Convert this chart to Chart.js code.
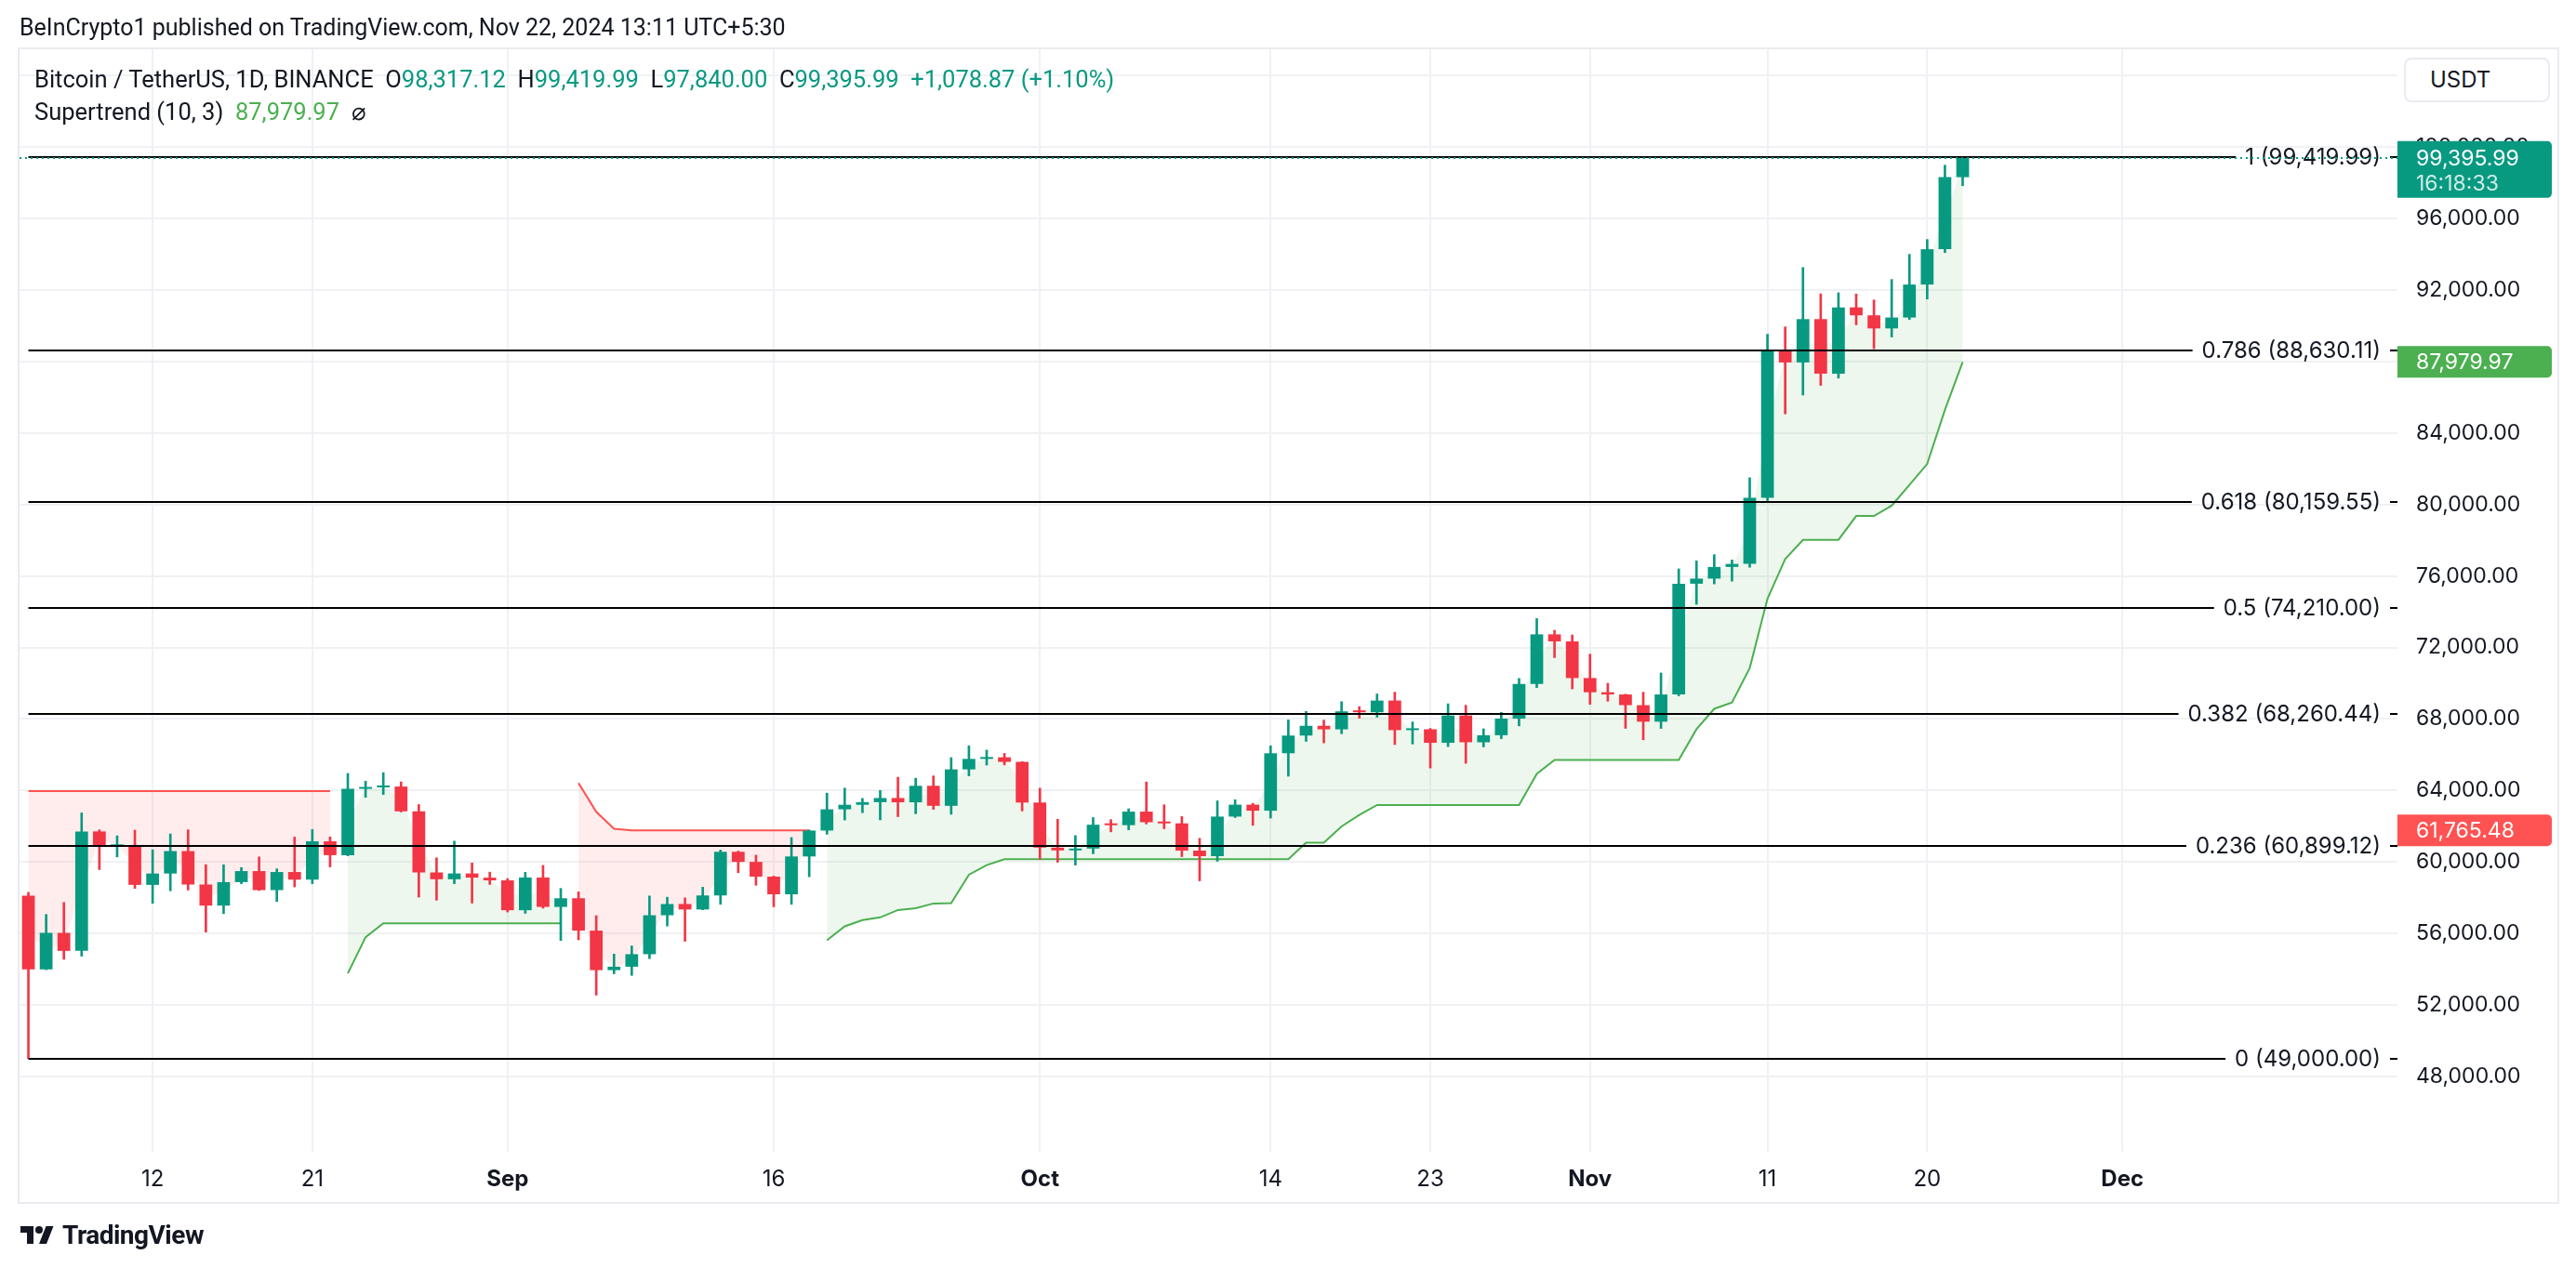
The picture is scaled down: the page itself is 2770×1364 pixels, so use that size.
<!DOCTYPE html>
<html>
<head>
<meta charset="utf-8">
<script src="https://cdn.jsdelivr.net/npm/chart.js@4.4.1/dist/chart.umd.min.js"></script>
<style>
  html, body { margin: 0; padding: 0; background: #fff; }
  body { width: 2770px; height: 1364px; position: relative; overflow: hidden; font-family: Roboto, "Liberation Sans", sans-serif; color: #131722; }
  #frame { position: absolute; left: 19px; top: 51px; width: 2733px; height: 1244px; border: 2px solid #e9ebf0; box-sizing: border-box; }
  #chart { position: absolute; left: 0; top: 0; }
  .title { position: absolute; left: 21px; top: 14px; font-size: 25px; line-height: 32px; white-space: pre; }
  .legend { position: absolute; left: 37px; font-size: 25.5px; line-height: 32px; white-space: pre; }
  .legend .v { color: #089981; }
  .legend .st { color: #4caf50; }
  .usdt { position: absolute; left: 2585px; top: 62px; width: 157px; height: 48px; box-sizing: border-box; border: 2px solid #e9ebf0; border-radius: 8px; background: #fff; font-family: Inter, Roboto, sans-serif; font-size: 24px; line-height: 44px; padding-left: 26px; }
  .logo { position: absolute; left: 21px; top: 1312px; height: 32px; display: flex; align-items: center; font-size: 28px; font-weight: 700; letter-spacing: -0.5px; }
  .logo svg { margin-right: 8px; }
</style>
</head>
<body>
<div id="frame"></div>
<canvas id="chart" width="2770" height="1364"></canvas>
<div class="title">BeInCrypto1 published on TradingView.com, Nov 22, 2024 13:11 UTC+5:30</div>
<div class="legend" style="top:69px">Bitcoin / TetherUS, 1D, BINANCE  O<span class="v">98,317.12</span>  H<span class="v">99,419.99</span>  L<span class="v">97,840.00</span>  C<span class="v">99,395.99</span>  <span class="v">+1,078.87 (+1.10%)</span></div>
<div class="legend" style="top:104px">Supertrend (10, 3)  <span class="st">87,979.97</span>  ⌀</div>
<div class="usdt">USDT</div>
<div class="logo"><svg width="38" height="24" viewBox="0 0 36 24"><path d="M14 22H7V10H0V3h14v19zM28 22h-8l7.5-19h8L28 22z" fill="#131722"/><circle cx="20" cy="7" r="4" fill="#131722"/></svg>TradingView</div>
<script>
// daily candles, Aug 5 .. Nov 22 2024
const startDate = '2024-08-05';
const dayCount = 134; // visible slots incl. empty space on the right

const opens = [
  58116, 53991, 56034, 55027, 61710, 60881, 60945,
  58719, 59355, 60610, 58739, 57560, 58874, 59491,
  58427, 59439, 59014, 61157, 60381, 64094, 64178,
  64220, 62834, 59415, 59034, 59359, 59123, 58974,
  57301, 59132, 57487, 57971, 56160, 53949, 54140,
  54841, 57020, 57650, 57343, 58128, 60571, 60005,
  59182, 58192, 60309, 61759, 62947, 63201, 63349,
  63579, 63339, 64263, 63144, 65181, 65769, 65858,
  65602, 63327, 60804, 60649, 60752, 62086, 62059,
  62819, 62224, 62161, 60636, 60326, 62540, 63206,
  62870, 66084, 67075, 67620, 67421, 68428, 68379,
  69032, 67377, 67426, 66668, 68198, 66698, 67093,
  68022, 69962, 72736, 72344, 70292, 69497, 69374,
  68775, 67850, 69372, 75571, 75857, 76509, 76678,
  80371, 88648, 87952, 90375, 87325, 91032, 90587,
  89855, 90465, 92310, 94286, 98317.12
];
const highs = [
  58305, 57064, 57736, 62745, 61799, 61464, 61780,
  60680, 61572, 61800, 59849, 59847, 59689, 60284,
  59618, 61396, 61820, 61400, 64955, 64522, 65000,
  64481, 63213, 60234, 61166, 59944, 59432, 59076,
  59425, 59809, 58519, 58327, 56996, 54850, 55300,
  58100, 58029, 57991, 58588, 60670, 60610, 60381,
  59210, 61369, 61786, 63850, 64133, 63559, 64000,
  64745, 64688, 64817, 65839, 66498, 66260, 66076,
  65618, 64130, 62390, 61477, 62484, 62370, 62975,
  64478, 63200, 62543, 61321, 63418, 63480, 63285,
  66500, 67950, 68424, 67939, 68969, 68694, 69400,
  69500, 67836, 67472, 68850, 68771, 67454, 68372,
  70270, 73620, 72961, 72700, 71632, 70000, 69391,
  69500, 70577, 76400, 76849, 77199, 76900, 81500,
  89530, 89940, 93265, 91790, 91850, 91779, 91449,
  92594, 94002, 94831, 98988, 99419.99
];
const lows = [
  49000, 53973, 54558, 54730, 59574, 60287, 58522,
  57688, 58390, 58433, 56078, 57110, 58785, 58408,
  57787, 58610, 58784, 59724, 60345, 63620, 63773,
  62800, 58034, 57860, 58787, 57701, 58745, 57201,
  57128, 57415, 55606, 55643, 52550, 53745, 53653,
  54591, 56419, 55567, 57324, 57632, 59400, 58696,
  57493, 57628, 59174, 61555, 62350, 62758, 62357,
  62538, 62700, 62947, 62670, 64819, 65422, 65432,
  62856, 60164, 59986, 59828, 60460, 61689, 61798,
  62128, 61860, 60300, 58946, 60042, 62487, 62050,
  62457, 64800, 66750, 66666, 67177, 68046, 68100,
  66571, 66600, 65260, 66457, 65521, 66439, 66901,
  67618, 69760, 71436, 69685, 68820, 68995, 67478,
  66835, 67476, 69298, 74416, 75560, 75714, 76492,
  80216, 85072, 86127, 86668, 87073, 90056, 88722,
  89376, 90357, 91500, 94100, 97840
];
const closes = [
  53991, 56034, 55027, 61710, 60880, 60945, 58719,
  59354, 60610, 58739, 57560, 58874, 59491, 58427,
  59438, 59013, 61157, 60382, 64094, 64178, 64220,
  62834, 59415, 59034, 59359, 59123, 58973, 57301,
  59132, 57487, 57970, 56160, 53949, 54140, 54841,
  57020, 57648, 57343, 58127, 60571, 60005, 59182,
  58192, 60309, 61759, 62947, 63201, 63348, 63579,
  63339, 64262, 63143, 65182, 65769, 65858, 65602,
  63327, 60805, 60649, 60752, 62086, 62058, 62819,
  62224, 62160, 60636, 60326, 62540, 63206, 62870,
  66083, 67074, 67620, 67421, 68428, 68379, 69031,
  67377, 67426, 66668, 68198, 66698, 67092, 68022,
  69962, 72736, 72344, 70292, 69497, 69374, 68775,
  67850, 69372, 75571, 75857, 76509, 76677, 80371,
  88647, 87952, 90375, 87325, 91032, 90587, 89855,
  90464, 92310, 94286, 98317, 99395.99
];

// Supertrend (10, 3): up-trend and down-trend plots, null where not active
const stUp = [
  null, null, null, null, null, null, null,
  null, null, null, null, null, null, null,
  null, null, null, null, 53766, 55792, 56571,
  56571, 56571, 56571, 56571, 56571, 56571, 56571,
  56571, 56571, 56571, null, null, null, null,
  null, null, null, null, null, null, null,
  null, null, null, 55620, 56400, 56745, 56900,
  57314, 57418, 57678, 57696, 59290, 59828, 60156,
  60156, 60156, 60156, 60156, 60156, 60156, 60156,
  60156, 60156, 60156, 60156, 60156, 60156, 60156,
  60156, 60156, 61075, 61075, 61991, 62633, 63187,
  63187, 63187, 63187, 63187, 63187, 63187, 63187,
  63187, 64929, 65706, 65706, 65706, 65706, 65706,
  65706, 65706, 65706, 67429, 68571, 68918, 70852,
  74732, 76951, 78026, 78026, 78026, 79361, 79361,
  79943, 81100, 82270, 85300, 87979.97
];
const stDown = [
  63964, 63964, 63964, 63964, 63964, 63964, 63964,
  63964, 63964, 63964, 63964, 63964, 63964, 63964,
  63964, 63964, 63964, 63964, null, null, null,
  null, null, null, null, null, null, null,
  null, null, null, 64416, 62805, 61855, 61765.48,
  61765.48, 61765.48, 61765.48, 61765.48, 61765.48, 61765.48, 61765.48,
  61765.48, 61765.48, 61765.48, null, null, null, null,
  null, null, null, null, null, null, null,
  null, null, null, null, null, null, null,
  null, null, null, null, null, null, null,
  null, null, null, null, null, null, null,
  null, null, null, null, null, null, null,
  null, null, null, null, null, null, null,
  null, null, null, null, null, null, null,
  null, null, null, null, null, null, null,
  null, null, null, null, null
];

// Fibonacci retracement drawn from the Aug 5 low to the Nov 22 high
const fibLevels = ['0', '0.236', '0.382', '0.5', '0.618', '0.786', '1'];
const fibPrices = [49000, 60899.12, 68260.44, 74210, 80159.55, 88630.11, 99419.99];

const yTicks = [48000, 52000, 56000, 60000, 64000, 68000, 72000, 76000, 80000, 84000, 88000, 92000, 96000, 100000, 104000];
const tickDates = ['2024-08-12', '2024-08-21', '2024-09-01', '2024-09-16', '2024-10-01', '2024-10-14', '2024-10-23', '2024-11-01', '2024-11-11', '2024-11-20', '2024-12-01'];
const tickTexts = ['12', '21', 'Sep', '16', 'Oct', '14', '23', 'Nov', '11', '20', 'Dec'];
const monthTexts = ['Sep', 'Oct', 'Nov', 'Dec'];

const upColor = '#089981';
const downColor = '#f23645';
const axisFont = 'Inter, Roboto, sans-serif';

const dates = [];
for (let i = 0; i < dayCount; i++) {
    const d = new Date(startDate + 'T00:00:00Z');
    d.setUTCDate(d.getUTCDate() + i);
    dates.push(d.toISOString().slice(0, 10));
}

const candleColors = closes.map((c, i) => c >= opens[i] ? upColor : downColor);
const bodies = closes.map((c, i) => [opens[i], c]);
const wicks = highs.map((h, i) => [lows[i], h]);
const bodyMid = closes.map((c, i) => (opens[i] + c) / 2);

function fmt(v) {
    return v.toLocaleString('en-US', { minimumFractionDigits: 2, maximumFractionDigits: 2 });
}

function tag(ctx, x0, x1, top, height, bg) {
    ctx.fillStyle = bg;
    ctx.beginPath();
    ctx.roundRect(x0, top, x1 - x0, height, [0, 5, 5, 0]);
    ctx.fill();
}

const overlay = {
    id: 'overlay',
    afterDatasetsDraw: function(chart) {
        const ctx = chart.ctx;
        const area = chart.chartArea;
        const xs = chart.scales.x;
        const ys = chart.scales.y;
        ctx.save();
        ctx.beginPath();
        ctx.rect(area.left, area.top, area.right - area.left, area.bottom - area.top);
        ctx.clip();

        // fib levels with their labels
        const fibStart = xs.getPixelForValue(0);
        const tx = area.right - 18;
        ctx.font = '24px ' + axisFont;
        ctx.textBaseline = 'middle';
        ctx.textAlign = 'right';
        fibLevels.forEach(function(level, i) {
            const py = Math.round(ys.getPixelForValue(fibPrices[i]));
            const text = level + ' (' + fmt(fibPrices[i]) + ')';
            const w = ctx.measureText(text).width;
            ctx.strokeStyle = '#000';
            ctx.lineWidth = 2;
            ctx.beginPath();
            ctx.moveTo(fibStart, py);
            ctx.lineTo(tx - w - 10, py);
            ctx.moveTo(tx + 10, py);
            ctx.lineTo(area.right, py);
            ctx.stroke();
            ctx.fillStyle = '#131722';
            ctx.fillText(text, tx, py + 1);
        });

        // last price line
        const lastY = Math.round(ys.getPixelForValue(closes[closes.length - 1]));
        ctx.setLineDash([2, 4]);
        ctx.strokeStyle = upColor;
        ctx.lineWidth = 2;
        ctx.beginPath();
        ctx.moveTo(area.left, lastY);
        ctx.lineTo(area.right, lastY);
        ctx.stroke();
        ctx.restore();
    },
    afterDraw: function(chart) {
        const ctx = chart.ctx;
        const area = chart.chartArea;
        const ys = chart.scales.y;
        const x0 = area.right;
        const x1 = x0 + 166;
        const tx = x0 + 20;
        ctx.save();
        ctx.font = '23px ' + axisFont;
        ctx.textBaseline = 'middle';
        ctx.textAlign = 'left';

        const last = closes[closes.length - 1];
        const ly = ys.getPixelForValue(last);
        tag(ctx, x0, x1, ly - 18, 61, upColor);
        ctx.fillStyle = '#fff';
        ctx.fillText(fmt(last), tx, ly + 1);
        ctx.fillStyle = 'rgba(255,255,255,0.8)';
        ctx.fillText('16:18:33', tx, ly + 28);

        const stLast = stUp[stUp.length - 1];
        const sy = ys.getPixelForValue(stLast);
        tag(ctx, x0, x1, sy - 17, 34, '#4caf50');
        ctx.fillStyle = '#fff';
        ctx.fillText(fmt(stLast), tx, sy + 1);

        const downLast = stDown.filter(v => v !== null).pop();
        const dy = ys.getPixelForValue(downLast);
        tag(ctx, x0, x1, dy - 17, 34, '#ff5252');
        ctx.fillStyle = '#fff';
        ctx.fillText(fmt(downLast), tx, dy + 1);
        ctx.restore();
    }
};

new Chart(document.getElementById('chart'), {
    type: 'bar',
    data: {
        labels: dates,
        datasets: [
            {
                type: 'line',
                label: 'bodyMid',
                data: bodyMid,
                borderColor: 'transparent',
                borderWidth: 0,
                pointRadius: 0,
                fill: false,
                order: 10
            },
            {
                type: 'line',
                label: 'Up Trend',
                data: stUp,
                borderColor: '#4caf50',
                borderWidth: 2,
                pointRadius: 0,
                tension: 0,
                spanGaps: false,
                fill: '-1',
                backgroundColor: 'rgba(76, 175, 80, 0.1)',
                order: 5
            },
            {
                type: 'line',
                label: 'Down Trend',
                data: stDown,
                borderColor: '#ff5252',
                borderWidth: 2,
                pointRadius: 0,
                tension: 0,
                spanGaps: false,
                fill: '-2',
                backgroundColor: 'rgba(255, 82, 82, 0.1)',
                order: 4
            },
            {
                label: 'wicks',
                data: wicks,
                backgroundColor: candleColors,
                barThickness: 2,
                grouped: false,
                order: 2
            },
            {
                label: 'bodies',
                data: bodies,
                backgroundColor: candleColors,
                barPercentage: 0.72,
                categoryPercentage: 1,
                minBarLength: 2,
                grouped: false,
                order: 1
            }
        ]
    },
    options: {
        responsive: false,
        devicePixelRatio: 1,
        animation: false,
        layout: { padding: { left: 21, top: 53, right: 20, bottom: 69 } },
        plugins: {
            legend: { display: false },
            tooltip: { enabled: false }
        },
        scales: {
            x: {
                type: 'category',
                offset: true,
                border: { display: false },
                grid: { color: '#f0f1f4', lineWidth: 2, drawTicks: false, offset: false },
                ticks: {
                    autoSkip: false,
                    maxRotation: 0,
                    padding: 15,
                    color: '#131722',
                    font: function(ctx) {
                        const label = ctx.tick ? ctx.tick.label : '';
                        return { family: axisFont, size: 24, weight: monthTexts.includes(label) ? '700' : '400' };
                    },
                    callback: function(value, index) {
                        const k = tickDates.indexOf(dates[index]);
                        return k >= 0 ? tickTexts[k] : null;
                    }
                },
                afterFit: function(axis) { axis.height = 56; }
            },
            y: {
                type: 'linear',
                position: 'right',
                min: 43784,
                max: 105475,
                border: { display: false },
                grid: { color: '#f0f1f4', lineWidth: 2, drawTicks: false },
                ticks: {
                    padding: 20,
                    color: '#131722',
                    font: { family: axisFont, size: 23 },
                    callback: function(value) { return fmt(value); }
                },
                afterBuildTicks: function(axis) {
                    axis.ticks = yTicks.map(v => ({ value: v }));
                },
                afterFit: function(axis) { axis.width = 172; }
            }
        }
    },
    plugins: [overlay]
});
</script>
</body>
</html>
